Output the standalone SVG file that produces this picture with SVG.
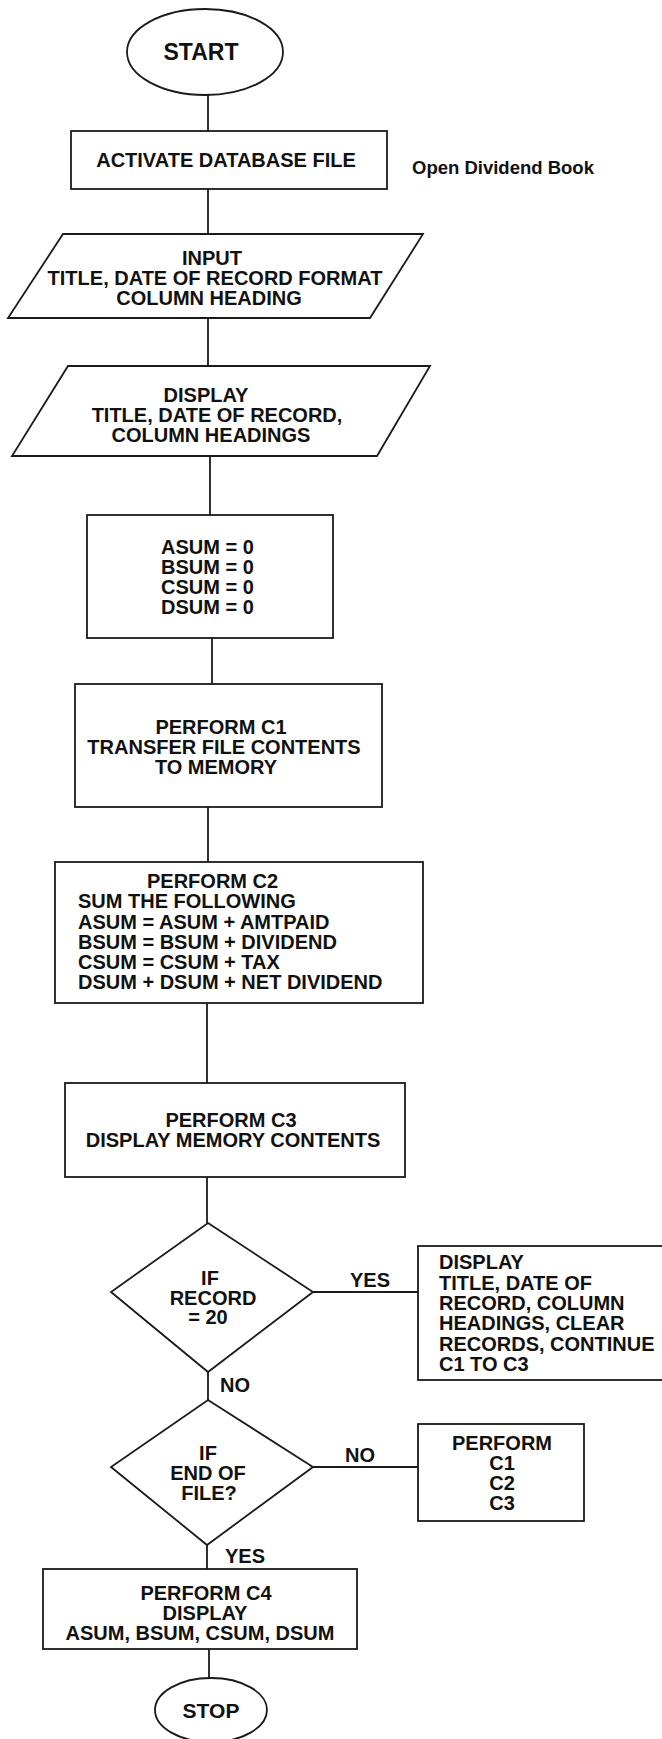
<svg xmlns="http://www.w3.org/2000/svg" width="662" height="1739" viewBox="0 0 662 1739">
<style>
.s{fill:#fff;stroke:#1a1a1a;stroke-width:1.8}
.c{fill:none;stroke:#1a1a1a;stroke-width:1.8}
text{font-family:"Liberation Sans",Arial,sans-serif;font-weight:bold;font-size:20px;fill:#111}
.m{text-anchor:middle}
</style>
<rect width="662" height="1739" fill="#fff"/>
<g id="connectors">
<line class="c" x1="208" y1="95" x2="208" y2="131"/>
<line class="c" x1="208" y1="189" x2="208" y2="234"/>
<line class="c" x1="208" y1="318" x2="208" y2="366"/>
<line class="c" x1="210" y1="456" x2="210" y2="515"/>
<line class="c" x1="212" y1="638" x2="212" y2="684"/>
<line class="c" x1="208" y1="807" x2="208" y2="862"/>
<line class="c" x1="207" y1="1003" x2="207" y2="1083"/>
<line class="c" x1="207" y1="1177" x2="207" y2="1223"/>
<line class="c" x1="313" y1="1292" x2="418" y2="1292"/>
<line class="c" x1="208" y1="1372" x2="208" y2="1400"/>
<line class="c" x1="313" y1="1467" x2="418" y2="1467"/>
<line class="c" x1="207" y1="1545" x2="207" y2="1569"/>
<line class="c" x1="209" y1="1649" x2="209" y2="1678"/>
<text x="350" y="1287">YES</text>
<text x="220" y="1392">NO</text>
<text x="345" y="1462">NO</text>
<text x="225" y="1563">YES</text>
</g>
<g id="start">
<ellipse class="s" cx="205" cy="52" rx="78" ry="43"/>
<text class="m" x="201" y="60" style="font-size:23px">START</text>
</g>
<g id="activate">
<rect class="s" x="71" y="131" width="316" height="58"/>
<text class="m" x="226" y="167">ACTIVATE DATABASE FILE</text>
</g>
<g id="note">
<text x="412" y="174" style="font-size:18.5px">Open Dividend Book</text>
</g>
<g id="input">
<polygon class="s" points="63,234 423,234 370,318 8,318"/>
<text class="m" x="212" y="265">INPUT</text>
<text class="m" x="215" y="285">TITLE, DATE OF RECORD FORMAT</text>
<text class="m" x="209" y="305">COLUMN HEADING</text>
</g>
<g id="display1">
<polygon class="s" points="68,366 430,366 377,456 12,456"/>
<text class="m" x="206" y="402">DISPLAY</text>
<text class="m" x="217" y="422">TITLE, DATE OF RECORD,</text>
<text class="m" x="211" y="442">COLUMN HEADINGS</text>
</g>
<g id="init">
<rect class="s" x="87" y="515" width="246" height="123"/>
<text x="161" y="554">ASUM = 0</text>
<text x="161" y="574">BSUM = 0</text>
<text x="161" y="594">CSUM = 0</text>
<text x="161" y="614">DSUM = 0</text>
</g>
<g id="c1">
<rect class="s" x="75" y="684" width="307" height="123"/>
<text class="m" x="221" y="734">PERFORM C1</text>
<text class="m" x="224" y="754">TRANSFER FILE CONTENTS</text>
<text class="m" x="216" y="774">TO MEMORY</text>
</g>
<g id="c2">
<rect class="s" x="55" y="862" width="368" height="141"/>
<text x="147" y="888">PERFORM C2</text>
<text x="78" y="908">SUM THE FOLLOWING</text>
<text x="78" y="929">ASUM = ASUM + AMTPAID</text>
<text x="78" y="949">BSUM = BSUM + DIVIDEND</text>
<text x="78" y="969">CSUM = CSUM + TAX</text>
<text x="78" y="989">DSUM + DSUM + NET DIVIDEND</text>
</g>
<g id="c3">
<rect class="s" x="65" y="1083" width="340" height="94"/>
<text class="m" x="231" y="1127">PERFORM C3</text>
<text class="m" x="233" y="1147">DISPLAY MEMORY CONTENTS</text>
</g>
<g id="decision1">
<polygon class="s" points="208,1223 313,1292 208,1372 111,1292"/>
<text class="m" x="210" y="1285">IF</text>
<text class="m" x="213" y="1305">RECORD</text>
<text class="m" x="208" y="1324">= 20</text>
</g>
<g id="display2">
<rect class="s" x="418" y="1246" width="250" height="134"/>
<text x="439" y="1269">DISPLAY</text>
<text x="439" y="1290">TITLE, DATE OF</text>
<text x="439" y="1310">RECORD, COLUMN</text>
<text x="439" y="1330">HEADINGS, CLEAR</text>
<text x="439" y="1351">RECORDS, CONTINUE</text>
<text x="439" y="1371">C1 TO C3</text>
</g>
<g id="decision2">
<polygon class="s" points="208,1400 313,1467 207,1545 111,1467"/>
<text class="m" x="208" y="1460">IF</text>
<text class="m" x="208" y="1480">END OF</text>
<text class="m" x="209" y="1500">FILE?</text>
</g>
<g id="perform">
<rect class="s" x="418" y="1424" width="166" height="97"/>
<text class="m" x="502" y="1450">PERFORM</text>
<text class="m" x="502" y="1470">C1</text>
<text class="m" x="502" y="1490">C2</text>
<text class="m" x="502" y="1510">C3</text>
</g>
<g id="c4">
<rect class="s" x="43" y="1569" width="314" height="80"/>
<text class="m" x="206" y="1600">PERFORM C4</text>
<text class="m" x="205" y="1620">DISPLAY</text>
<text class="m" x="200" y="1640">ASUM, BSUM, CSUM, DSUM</text>
</g>
<g id="stop">
<ellipse class="s" cx="211" cy="1710" rx="56" ry="32"/>
<text class="m" x="211" y="1718" style="font-size:21px">STOP</text>
</g>
</svg>
